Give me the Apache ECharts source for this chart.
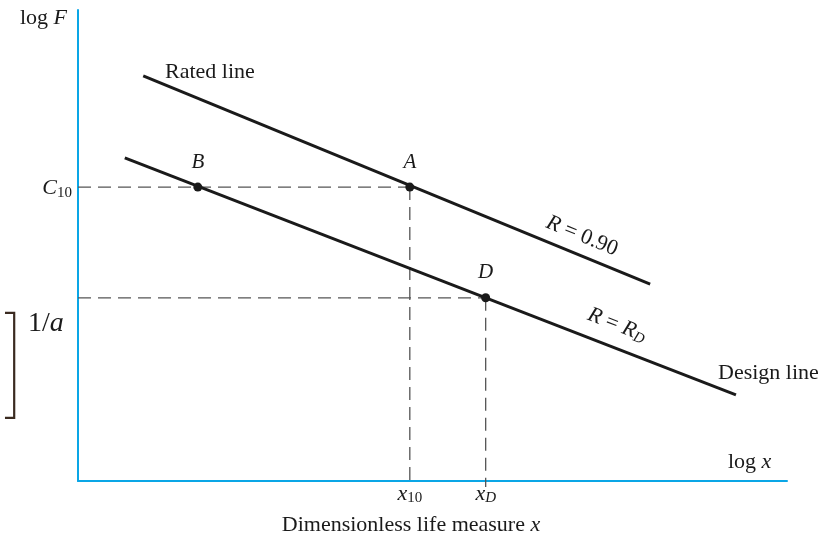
<!DOCTYPE html>
<html><head><meta charset="utf-8">
<script src="https://cdn.jsdelivr.net/npm/echarts@6/dist/echarts.min.js"></script>
<style>html,body{margin:0;padding:0;background:#fff}#c{width:833px;height:537px}</style>
</head><body><div id="c"></div>
<script>
// Schematic values (arbitrary log units)
const ratedLine = [[0.92, 8.60], [8.07, 4.18]];
const designLine = [[0.66, 6.86], [9.28, 1.83]];
const pointNames = ['B', 'A', 'D'];
const pointValues = [[1.69, 6.24], [4.68, 6.24], [5.75, 3.89]];
const bracket = [[-1.03, 3.57], [-0.90, 3.57], [-0.90, 1.34], [-1.03, 1.34]];

const A = pointValues[1], D = pointValues[2];
const serif = '"Liberation Serif", "DejaVu Serif", serif';
const ink = '#1a1a1a';
const chart = echarts.init(document.getElementById('c'));
const dash = {color: '#555', width: 1.3, type: [13, 7]};
chart.setOption({
  animation: false,
  grid: {left: 78, right: 46, top: 10, bottom: 56},
  xAxis: {type: 'value', min: 0, max: 10, axisLine: {lineStyle: {color: '#0aa6e6', width: 2}}, axisTick: {show: false}, axisLabel: {show: false}, splitLine: {show: false}},
  yAxis: {type: 'value', min: 0, max: 10, axisLine: {show: true, lineStyle: {color: '#0aa6e6', width: 2}}, axisTick: {show: false}, axisLabel: {show: false}, splitLine: {show: false}},
  series: [
    {type: 'line', data: ratedLine, symbol: 'none', lineStyle: {color: ink, width: 3}},
    {type: 'line', data: designLine, symbol: 'none', lineStyle: {color: ink, width: 3}},
    {type: 'line', data: [[0, A[1]], A], symbol: 'none', lineStyle: dash, z: 1},
    {type: 'line', data: [[0, D[1]], D], symbol: 'none', lineStyle: dash, z: 1},
    {type: 'line', data: [A, [A[0], -0.13]], symbol: 'none', lineStyle: dash, clip: false, z: 1},
    {type: 'line', data: [D, [D[0], -0.13]], symbol: 'none', lineStyle: dash, clip: false, z: 1},
    {type: 'scatter', data: pointValues.map((v, i) => ({value: v, name: pointNames[i]})), symbolSize: 9,
     itemStyle: {color: ink, opacity: 1}, z: 5,
     label: {show: true, position: 'top', distance: 10, formatter: p => p.name, fontFamily: serif, fontStyle: 'italic', fontSize: 21, color: ink, opacity: 1}}
  ]
});
const px = v => chart.convertToPixel({gridIndex: 0}, v);
const pA = px(A), pD = px(D);
const FS = 22, SS = 15;
const t = (x, y, text, o) => Object.assign({type: 'text', x, y, style: Object.assign({text, fontFamily: serif, fontSize: FS, fill: ink}, o || {})});
const sub = {
  sub: {fontFamily: serif, fontSize: SS, fill: ink, padding: [9, 0, 0, 0]},
  it: {fontFamily: serif, fontStyle: 'italic', fontSize: FS, fill: ink},
  itsub: {fontFamily: serif, fontStyle: 'italic', fontSize: SS, fill: ink, padding: [9, 0, 0, 0]}
};
chart.setOption({graphic: [
  {type: 'polyline', shape: {points: bracket.map(px)}, style: {stroke: '#3a2a20', lineWidth: 2.2, fill: null}},
  t(20, 18, 'log {it|F}', {verticalAlign: 'middle', rich: sub}),
  t(72, pA[1] + 1, '{it|C}{sub|10}', {align: 'right', verticalAlign: 'middle', rich: sub}),
  t(28, 324, '1/{a|a}', {verticalAlign: 'middle', fontSize: 28, rich: {a: {fontFamily: serif, fontStyle: 'italic', fontSize: 28, fill: ink}}}),
  t(728, 462, 'log {it|x}', {verticalAlign: 'middle', rich: sub}),
  t(pA[0], 494, '{it|x}{sub|10}', {align: 'center', verticalAlign: 'middle', rich: sub}),
  t(pD[0], 494, '{it|x}{itsub|D}', {align: 'center', verticalAlign: 'middle', rich: sub}),
  t(411, 525, 'Dimensionless life measure {it|x}', {align: 'center', verticalAlign: 'middle', rich: sub}),
  t(165, 72, 'Rated line', {verticalAlign: 'middle'}),
  t(718, 373, 'Design line', {verticalAlign: 'middle'}),
  {type: 'text', x: 582, y: 236, rotation: -0.39, style: {text: '{it|R} = 0.90', rich: {it: sub.it}, fontFamily: serif, fontSize: FS, fill: ink, align: 'center', verticalAlign: 'middle'}},
  {type: 'text', x: 617, y: 325, rotation: -0.37, style: {text: '{it|R} = {it|R}{itsub|D}', rich: sub, fontFamily: serif, fontSize: FS, fill: ink, align: 'center', verticalAlign: 'middle'}}
]});
</script></body></html>
